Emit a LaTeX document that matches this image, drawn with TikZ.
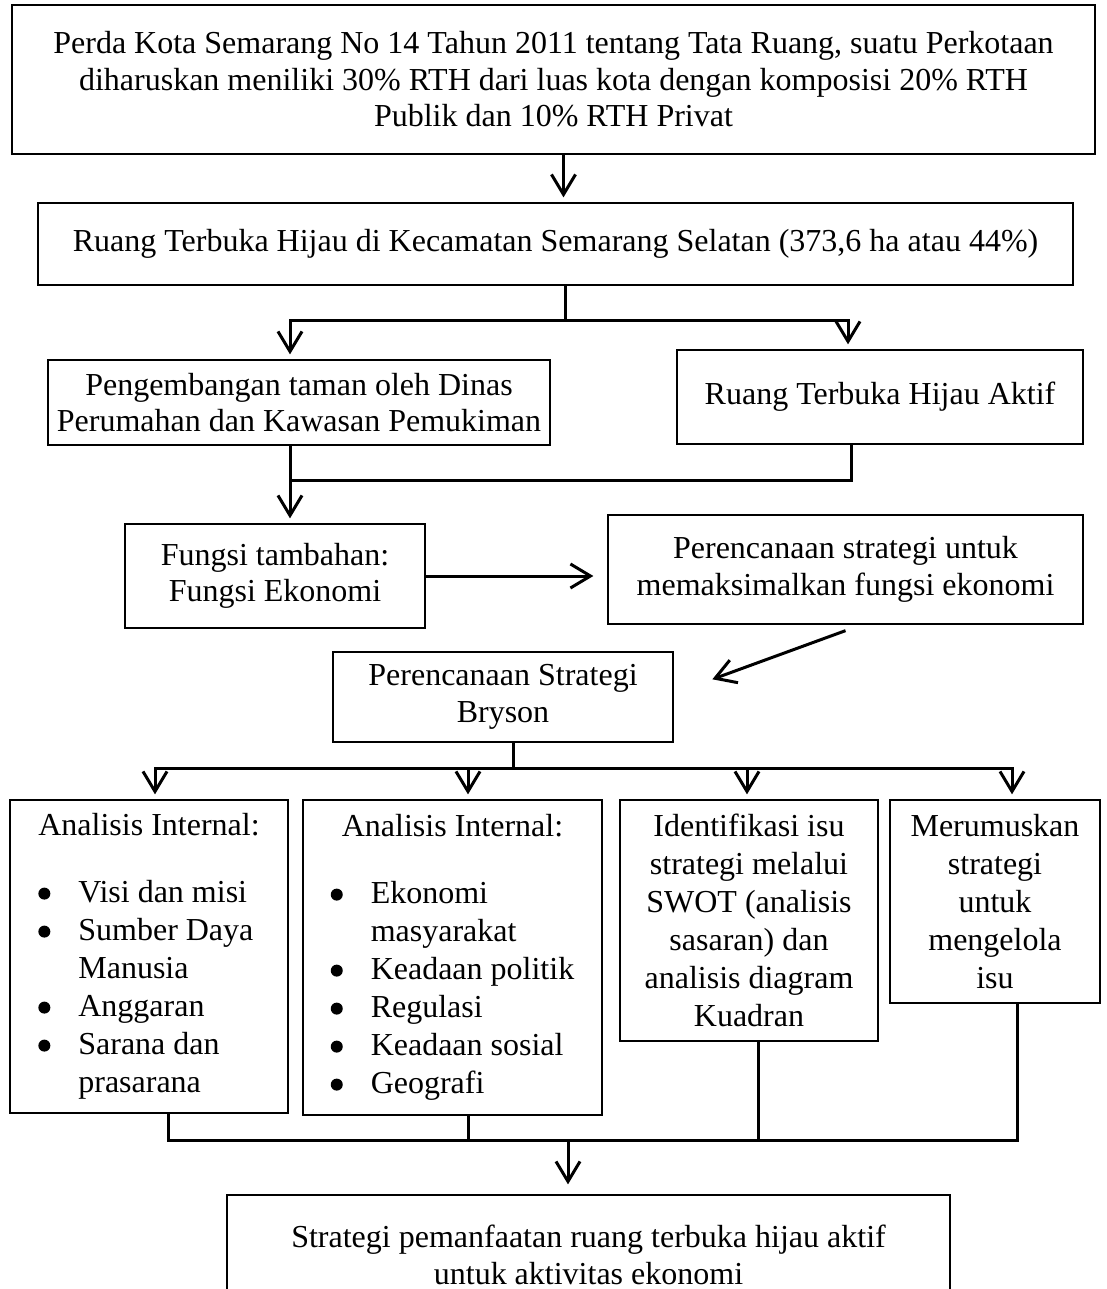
\documentclass[tikz,border=0pt]{standalone}
\usepackage{fontspec}
\setmainfont{Liberation Serif}
\usetikzlibrary{arrows.meta}

\newcommand{\bul}{\tikz[baseline={(0,-9pt)}]\fill (6pt,0) circle (6pt);}

\begin{document}
\begin{tikzpicture}[x=1pt, y=-1pt,
	box/.style={draw, line width=1.3pt, align=center, inner sep=4pt, font=\fontsize{32}{36.5}\selectfont},
	listbox/.style={draw, line width=1.3pt, inner sep=4pt, font=\fontsize{32}{38}\selectfont},
	line/.style={line width=3pt},
	arr/.style={line width=3pt, -{Straight Barb[length=20pt, width=24pt]}, shorten >=5pt}]
	\useasboundingbox (0,0) rectangle (1107,1289);
	\clip (0,0) rectangle (1107,1289);

	\node[box, minimum width=1083pt, minimum height=149pt] (perda) at (553.5,79.5) {Perda Kota Semarang No 14 Tahun 2011 tentang Tata Ruang, suatu Perkotaan\\diharuskan meniliki 30\% RTH dari luas kota dengan komposisi 20\% RTH\\Publik dan 10\% RTH Privat};
	\node[box, minimum width=1035pt, minimum height=82pt] (ruang) at (555.5,244) {Ruang Terbuka Hijau di Kecamatan Semarang Selatan (373,6 ha atau 44\%)};
	\node[box, minimum width=502pt, minimum height=85pt] (taman) at (299,402.5) {Pengembangan taman oleh Dinas\\Perumahan dan Kawasan Pemukiman};
	\node[box, minimum width=406pt, minimum height=94pt] (aktif) at (880,397) {Ruang Terbuka Hijau Aktif};
	\node[box, minimum width=300pt, minimum height=104pt] (fungsi) at (275,576) {Fungsi tambahan:\\Fungsi Ekonomi};
	\node[box, minimum width=475pt, minimum height=109pt] (rencana) at (845.5,569.5) {Perencanaan strategi untuk\\memaksimalkan fungsi ekonomi};
	\node[box, minimum width=340pt, minimum height=90pt] (bryson) at (503,697) {Perencanaan Strategi\\Bryson};

	\node[listbox, minimum width=278pt, minimum height=313pt] (intA) at (149,956.5) {%
		\begin{tabular}{@{}p{40pt}@{}l@{}}
			\multicolumn{2}{@{}c@{}}{Analisis Internal:}\\[29pt]
			\bul & Visi dan misi\\
			\bul & Sumber Daya\\
			& Manusia\\
			\bul & Anggaran\\
			\bul & Sarana dan\\
			& prasarana
		\end{tabular}};
	\node[listbox, minimum width=299pt, minimum height=315pt] (intB) at (452.5,957.5) {%
		\begin{tabular}{@{}p{40pt}@{}l@{}}
			\multicolumn{2}{@{}c@{}}{Analisis Internal:}\\[29pt]
			\bul & Ekonomi\\
			& masyarakat\\
			\bul & Keadaan politik\\
			\bul & Regulasi\\
			\bul & Keadaan sosial\\
			\bul & Geografi
		\end{tabular}};
	\node[box, font=\fontsize{32}{38}\selectfont, minimum width=258pt, minimum height=241pt] (isu) at (749,920.5) {Identifikasi isu\\strategi melalui\\SWOT (analisis\\sasaran) dan\\analisis diagram\\Kuadran};
	\node[box, font=\fontsize{32}{38}\selectfont, minimum width=210pt, minimum height=203pt] (rumus) at (995,901.5) {Merumuskan\\strategi\\untuk\\mengelola\\isu};
	\node[box, minimum width=723pt, minimum height=120pt] (strategi) at (588.5,1255) {Strategi pemanfaatan ruang terbuka hijau aktif\\untuk aktivitas ekonomi};

	\coordinate (j1) at (565.5,320);
	\coordinate (j2) at (290,480);
	\coordinate (j3) at (513,768);
	\coordinate (j4) at (568,1140);

	\draw[arr] ([xshift=10pt]perda.south) -- ([xshift=8pt]ruang.north);
	\draw[line] ([xshift=10pt]ruang.south) -- (j1);
	\draw[arr] (j1) -| ([xshift=-9pt]taman.north);
	\draw[arr] (j1) -| ([xshift=-32pt]aktif.north);
	\draw[line] ([xshift=-29pt]aktif.south) |- (j2);
	\draw[arr] ([xshift=-9pt]taman.south) -- ([xshift=15pt]fungsi.north);
	\draw[arr, shorten >=14pt] (fungsi.east) -- (fungsi.east -| rencana.west);
	\draw[arr] ([yshift=-6pt]rencana.south) -- ([xshift=34pt,yshift=16pt]bryson.east);
	\draw[line] ([xshift=10pt]bryson.south) -- (j3);
	\draw[arr] (j3) -| ([xshift=6pt]intA.north);
	\draw[arr] (j3) -| ([xshift=15.5pt]intB.north);
	\draw[arr] (j3) -| ([xshift=-2pt]isu.north);
	\draw[arr] (j3) -| ([xshift=17pt]rumus.north);
	\draw[line] ([xshift=19pt]intA.south) |- ([xshift=22pt]rumus.south |- j4) -- ([xshift=22pt]rumus.south);
	\draw[line] ([xshift=15.5pt]intB.south) -- ([xshift=15.5pt]intB.south |- j4);
	\draw[line] ([xshift=9pt]isu.south) -- ([xshift=9pt]isu.south |- j4);
	\draw[arr, shorten >=10pt] (j4) -- ([xshift=-20.5pt]strategi.north);
\end{tikzpicture}
\end{document}
